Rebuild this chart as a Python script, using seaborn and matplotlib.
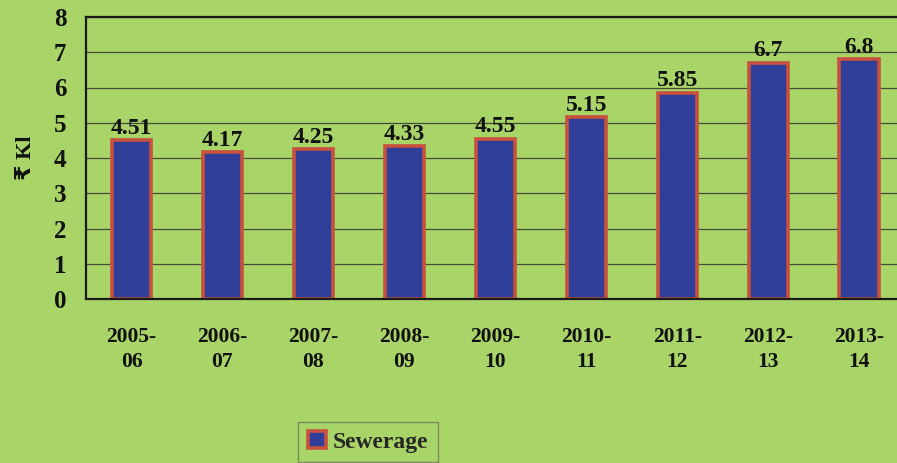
import matplotlib
matplotlib.use("Agg")
import matplotlib.pyplot as plt
import seaborn as sns
import pandas as pd

years = ["2005-\n06", "2006-\n07", "2007-\n08", "2008-\n09", "2009-\n10",
         "2010-\n11", "2011-\n12", "2012-\n13", "2013-\n14"]
sewerage = [4.51, 4.17, 4.25, 4.33, 4.55, 5.15, 5.85, 6.7, 6.8]
value_labels = ["4.51", "4.17", "4.25", "4.33", "4.55", "5.15", "5.85", "6.7", "6.8"]
y_ticks = [0, 1, 2, 3, 4, 5, 6, 7, 8]

bg = "#a9d468"
bar_face = "#2f3e98"
bar_edge = "#c8503c"

sns.set_theme(style="white")
plt.rcParams["font.family"] = ["Liberation Serif", "DejaVu Sans"]
plt.rcParams["font.weight"] = "bold"

df = pd.DataFrame({"year": years, "value": sewerage, "series": "Sewerage"})

fig = plt.figure(figsize=(8.97, 4.63), dpi=100, facecolor=bg)
ax = fig.add_axes([86 / 897, 164 / 463, 818.5 / 897, 282 / 463])
ax.set_facecolor(bg)

sns.barplot(data=df, x="year", y="value", hue="series", palette=[bar_face],
            width=0.43, linewidth=2.6, edgecolor=bar_edge, saturation=1,
            ax=ax)

ax.set_xlim(-0.5, len(years) - 0.5)
ax.set_ylim(0, 8)
ax.set_yticks(y_ticks)
ax.set_yticklabels([str(t) for t in y_ticks], fontsize=18, fontweight="bold",
                   color="#111111")
ax.tick_params(axis="y", length=0, pad=14)
ax.tick_params(axis="x", length=0, pad=20)
for lbl in ax.get_xticklabels():
    lbl.set_fontsize(15.5)
    lbl.set_fontweight("bold")
    lbl.set_color("#111111")
    lbl.set_linespacing(1.35)

ax.grid(axis="y", color="#2a2a2a", linewidth=0.9, alpha=0.8)
ax.set_axisbelow(True)
for side in ["left", "top", "bottom"]:
    ax.spines[side].set_visible(True)
    ax.spines[side].set_color("#1a1a1a")
    ax.spines[side].set_linewidth(1.6)
ax.spines["right"].set_visible(False)

ax.set_xlabel("")
ax.set_ylabel("₹ Kl", fontsize=16, fontweight="bold", labelpad=13,
              color="#111111")

for cont in ax.containers:
    ax.bar_label(cont, labels=value_labels, padding=1, fontsize=17,
                 fontweight="bold", color="#111111")

handles, labels = ax.get_legend_handles_labels()
ax.legend_.remove()
leg = fig.legend(handles, labels, loc="center", bbox_to_anchor=(368 / 897, 21 / 463),
                 frameon=True, fancybox=False, edgecolor="#6a7a5a",
                 facecolor=bg, prop={"weight": "bold", "size": 17},
                 handlelength=0.75, handleheight=0.75, handletextpad=0.3,
                 borderpad=0.4, borderaxespad=0)
leg.get_frame().set_linewidth(1.0)

fig.savefig("out.png", dpi=100, facecolor=bg)
